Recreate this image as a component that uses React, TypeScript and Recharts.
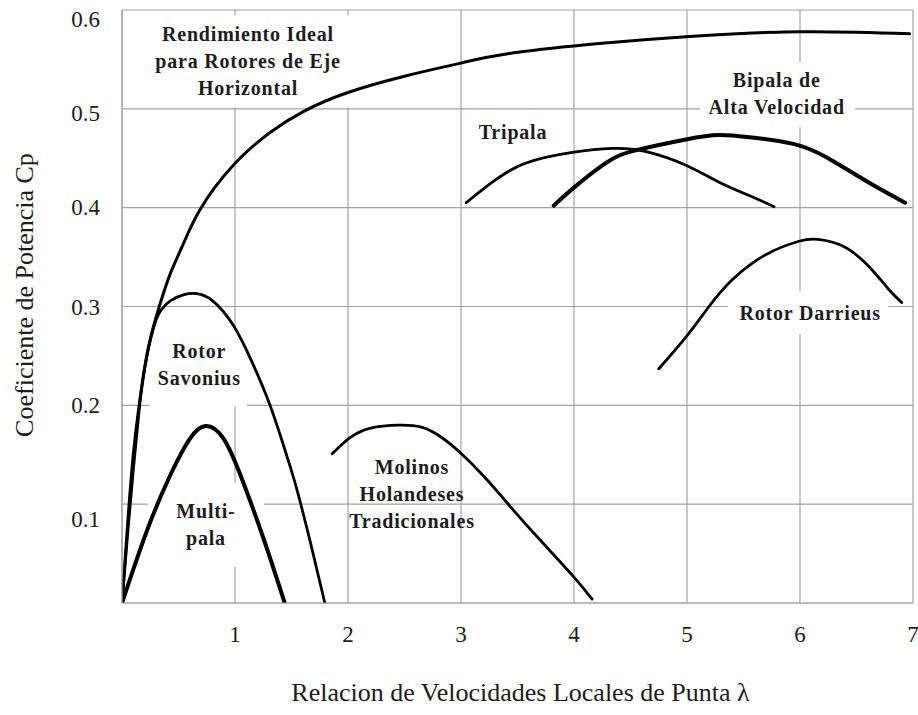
import React from "react";
import {
  LineChart,
  Line,
  XAxis,
  YAxis,
  CartesianGrid,
  ReferenceDot,
  Label,
} from "recharts";

// ---------- Data ----------
const xTicks = [1, 2, 3, 4, 5, 6, 7];
const yTicks = [0.1, 0.2, 0.3, 0.4, 0.5, 0.6];

const idealCurve = [
  { x: 0, y: 0 },
  { x: 0.05, y: 0.08 },
  { x: 0.1, y: 0.15 },
  { x: 0.155, y: 0.203 },
  { x: 0.2, y: 0.238 },
  { x: 0.25, y: 0.267 },
  { x: 0.33, y: 0.3 },
  { x: 0.43, y: 0.334 },
  { x: 0.53, y: 0.36 },
  { x: 0.69, y: 0.398 },
  { x: 0.985, y: 0.443 },
  { x: 1.31, y: 0.476 },
  { x: 1.6, y: 0.497 },
  { x: 1.986, y: 0.516 },
  { x: 2.5, y: 0.533 },
  { x: 2.985, y: 0.546 },
  { x: 3.43, y: 0.556 },
  { x: 4.22, y: 0.566 },
  { x: 4.99, y: 0.573 },
  { x: 5.99, y: 0.578 },
  { x: 6.97, y: 0.576 },
];

const savoniusCurve = [
  { x: 0, y: 0 },
  { x: 0.05, y: 0.07 },
  { x: 0.1, y: 0.135 },
  { x: 0.15, y: 0.193 },
  { x: 0.2, y: 0.237 },
  { x: 0.28, y: 0.279 },
  { x: 0.35, y: 0.297 },
  { x: 0.43, y: 0.306 },
  { x: 0.55, y: 0.312 },
  { x: 0.66, y: 0.313 },
  { x: 0.8, y: 0.306 },
  { x: 0.985, y: 0.281 },
  { x: 1.15, y: 0.244 },
  { x: 1.31, y: 0.2 },
  { x: 1.45, y: 0.152 },
  { x: 1.545, y: 0.116 },
  { x: 1.67, y: 0.06 },
  { x: 1.795, y: 0 },
];

const multipalaCurve = [
  { x: 0, y: 0 },
  { x: 0.1, y: 0.034 },
  { x: 0.25, y: 0.082 },
  { x: 0.43, y: 0.13 },
  { x: 0.6, y: 0.166 },
  { x: 0.74, y: 0.179 },
  { x: 0.9, y: 0.166 },
  { x: 1.07, y: 0.123 },
  { x: 1.25, y: 0.066 },
  { x: 1.44, y: 0 },
];

const molinosCurve = [
  { x: 1.86, y: 0.151 },
  { x: 2.015, y: 0.167 },
  { x: 2.2, y: 0.177 },
  { x: 2.45, y: 0.18 },
  { x: 2.65, y: 0.178 },
  { x: 2.81, y: 0.169 },
  { x: 2.985, y: 0.153 },
  { x: 3.22, y: 0.126 },
  { x: 3.456, y: 0.095 },
  { x: 3.69, y: 0.065 },
  { x: 3.986, y: 0.028 },
  { x: 4.16, y: 0.004 },
];

const tripalaCurve = [
  { x: 3.045, y: 0.405 },
  { x: 3.28, y: 0.426 },
  { x: 3.57, y: 0.445 },
  { x: 3.986, y: 0.456 },
  { x: 4.34, y: 0.46 },
  { x: 4.63, y: 0.457 },
  { x: 4.99, y: 0.443 },
  { x: 5.28, y: 0.426 },
  { x: 5.575, y: 0.411 },
  { x: 5.77, y: 0.401 },
];

const bipalaCurve = [
  { x: 3.82, y: 0.402 },
  { x: 3.986, y: 0.419 },
  { x: 4.28, y: 0.445 },
  { x: 4.545, y: 0.458 },
  { x: 4.99, y: 0.469 },
  { x: 5.28, y: 0.4735 },
  { x: 5.575, y: 0.471 },
  { x: 5.99, y: 0.463 },
  { x: 6.31, y: 0.446 },
  { x: 6.6, y: 0.426 },
  { x: 6.93, y: 0.405 },
];

const darrieusCurve = [
  { x: 4.75, y: 0.237 },
  { x: 4.99, y: 0.269 },
  { x: 5.195, y: 0.3 },
  { x: 5.4, y: 0.327 },
  { x: 5.69, y: 0.352 },
  { x: 5.99, y: 0.366 },
  { x: 6.16, y: 0.368 },
  { x: 6.4, y: 0.36 },
  { x: 6.63, y: 0.338 },
  { x: 6.78, y: 0.318 },
  { x: 6.9, y: 0.304 },
];

const annotationNames = ["ideal", "tripala", "bipala", "savonius", "multipala", "molinos", "darrieus"];
const annotationX = [1.115, 3.46, 5.794, 0.684, 0.743, 2.566, 6.09];
const annotationY = [0.548, 0.4764, 0.5154, 0.2413, 0.0792, 0.1107, 0.2937];
const annotationText = [
  ["Rendimiento Ideal", "para Rotores de Eje", "Horizontal"],
  ["Tripala"],
  ["Bipala de", "Alta Velocidad"],
  ["Rotor", "Savonius"],
  ["Multi-", "pala"],
  ["Molinos", "Holandeses", "Tradicionales"],
  ["Rotor Darrieus"],
];

const xTitle = "Relacion de Velocidades Locales de Punta \u03bb";
const yTitle = "Coeficiente de Potencia Cp";

// ---------- Styles ----------
const FONT = "'Liberation Serif', 'Times New Roman', serif";
const GRID = "#a3a3a3";
const TEXT = "#1c1c1c";

const boxStyle: Record<string, { w: number; h: number; dx: number; dy: number } | null> = {
  ideal: { w: 232, h: 92, dx: 1, dy: 0 },
  tripala: { w: 84, h: 36, dx: 0, dy: 0 },
  bipala: { w: 155, h: 65, dx: 1, dy: 1 },
  savonius: { w: 97, h: 78, dx: -1, dy: 3 },
  multipala: { w: 116, h: 84, dx: 0, dy: 0 },
  molinos: null,
  darrieus: { w: 160, h: 43, dx: -2, dy: 0 },
};

const yTickShift: Record<string, number> = {
  "0.1": 15,
  "0.2": 0,
  "0.3": 1,
  "0.4": 0,
  "0.5": 5,
  "0.6": 2,
};

const YTick = (props: any) => {
  const { x, y, payload } = props;
  const key = String(payload.value);
  return (
    <text
      x={x - 22}
      y={y + (yTickShift[key] || 0)}
      textAnchor="end"
      dominantBaseline="central"
      fontFamily={FONT}
      fontSize={23}
      fill={TEXT}
    >
      {key}
    </text>
  );
};

const XTick = (props: any) => {
  const { x, y, payload } = props;
  return (
    <text
      x={x}
      y={y + 31}
      textAnchor="middle"
      dominantBaseline="central"
      fontFamily={FONT}
      fontSize={23}
      fill={TEXT}
    >
      {String(payload.value)}
    </text>
  );
};

const makeAnnotationShape = (name: string, lines: string[]) => (props: any) => {
  const { cx, cy } = props;
  const box = boxStyle[name];
  const lh = 27;
  return (
    <g>
      {box && (
        <rect
          x={cx - box.w / 2 + box.dx}
          y={cy - box.h / 2 + box.dy}
          width={box.w}
          height={box.h}
          fill="#ffffff"
        />
      )}
      {lines.map((ln, i) => (
        <text
          key={i}
          x={cx}
          y={cy + (i - (lines.length - 1) / 2) * lh}
          textAnchor="middle"
          dominantBaseline="central"
          fontFamily={FONT}
          fontWeight="bold"
          fontSize={20}
          letterSpacing={0.8}
          fill={TEXT}
        >
          {ln}
        </text>
      ))}
    </g>
  );
};

const XTitle = (props: any) => {
  const vb = props.viewBox || {};
  return (
    <text
      x={vb.x + vb.width / 2 + 3}
      y={vb.y + 89}
      textAnchor="middle"
      dominantBaseline="central"
      fontFamily={FONT}
      fontSize={26}
      fill={TEXT}
    >
      {xTitle}
    </text>
  );
};

const YTitle = (props: any) => {
  const vb = props.viewBox || {};
  const cx = vb.x + 16;
  const cy = 287;
  return (
    <text
      x={cx}
      y={cy}
      transform={`rotate(-90 ${cx} ${cy})`}
      textAnchor="middle"
      dominantBaseline="central"
      fontFamily={FONT}
      fontSize={26}
      fill={TEXT}
    >
      {yTitle}
    </text>
  );
};

const series = [
  { key: "ideal", data: idealCurve, width: 3 },
  { key: "savonius", data: savoniusCurve, width: 2.8 },
  { key: "multipala", data: multipalaCurve, width: 4 },
  { key: "molinos", data: molinosCurve, width: 2.8 },
  { key: "tripala", data: tripalaCurve, width: 2.8 },
  { key: "bipala", data: bipalaCurve, width: 4 },
  { key: "darrieus", data: darrieusCurve, width: 2.8 },
];

export default function App() {
  return (
    <div
      style={{
        position: "fixed",
        left: 8,
        top: 8,
        width: 910,
        height: 698,
        background: "#fff",
        overflow: "visible",
      }}
    >
      <style>{`html, body { overflow: hidden; }`}</style>
      <LineChart
        width={910}
        height={698}
        margin={{ top: 2, right: 5, left: 0, bottom: 3 }}
        style={{ overflow: "visible" }}
      >
        <CartesianGrid stroke={GRID} strokeWidth={1.2} />
        <XAxis
          type="number"
          dataKey="x"
          domain={[0, 7]}
          ticks={xTicks}
          allowDataOverflow
          height={100}
          tickSize={0}
          tickMargin={0}
          tickLine={false}
          axisLine={{ stroke: GRID, strokeWidth: 1.2 }}
          tick={<XTick />}
        >
          <Label content={<XTitle />} />
        </XAxis>
        <YAxis
          type="number"
          dataKey="y"
          domain={[0, 0.6]}
          ticks={yTicks}
          allowDataOverflow
          width={114}
          tickSize={0}
          tickMargin={0}
          tickLine={false}
          axisLine={{ stroke: GRID, strokeWidth: 1.2 }}
          tick={<YTick />}
        >
          <Label content={<YTitle />} />
        </YAxis>
        {annotationNames.map((name, i) => (
          <ReferenceDot
            key={name}
            x={annotationX[i]}
            y={annotationY[i]}
            r={0}
            zIndex={-50}
            ifOverflow="visible"
            shape={makeAnnotationShape(name, annotationText[i])}
          />
        ))}
        {series.map((s) => (
          <Line
            key={s.key}
            data={s.data}
            dataKey="y"
            type="natural"
            stroke="#000"
            strokeWidth={s.width}
            dot={false}
            activeDot={false}
            isAnimationActive={false}
            strokeLinecap="round"
          />
        ))}
      </LineChart>
    </div>
  );
}
